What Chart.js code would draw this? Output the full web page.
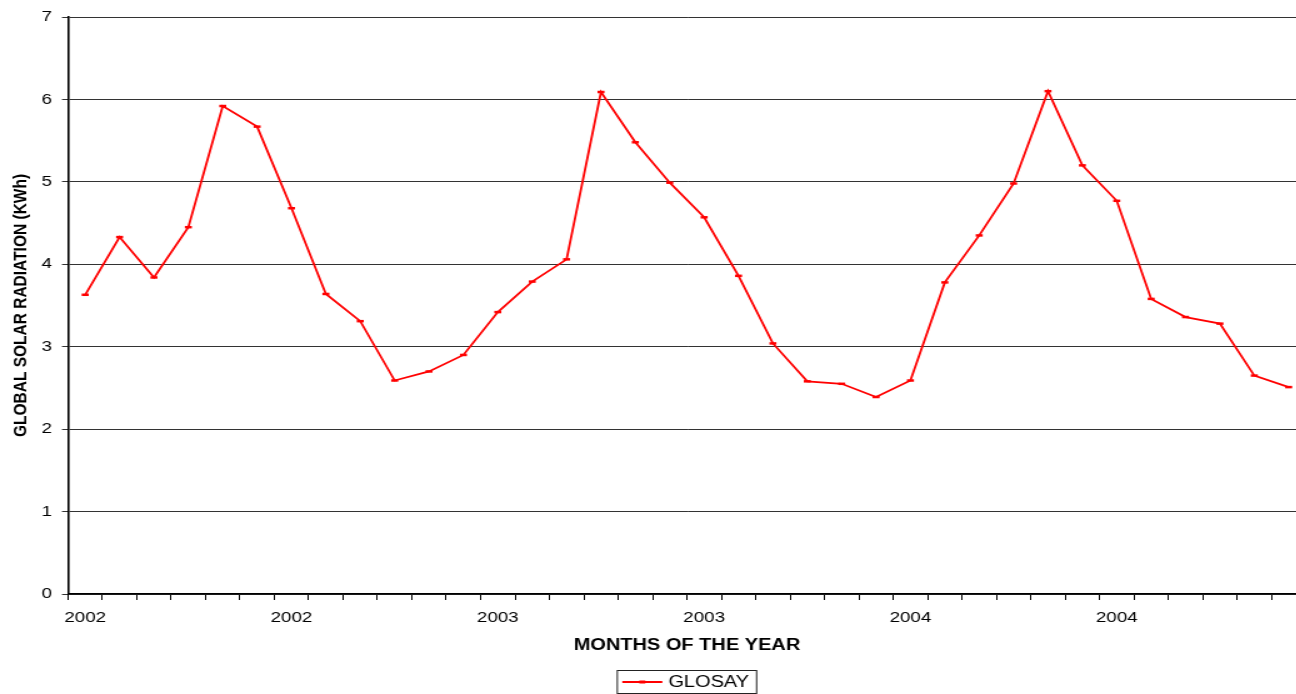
<!DOCTYPE html>
<html>
<head>
<meta charset="utf-8">
<script src="https://cdn.jsdelivr.net/npm/chart.js@4/dist/chart.umd.min.js"></script>
<style>
  html, body { margin: 0; padding: 0; background: #fff; overflow: hidden; width: 1296px; height: 694px; }
  /* the original picture is stretched sideways, so the canvas is too */
  #chart { position: absolute; left: 0; top: 0; transform: scaleX(1.25); transform-origin: 0 0; }
</style>
</head>
<body>
<canvas id="chart" width="1050" height="694"></canvas>
<script>
// monthly global solar radiation, Jan 2002 - Dec 2004
const years = ['2002', '2003', '2004'];
const months = ['Jan', 'Feb', 'Mar', 'Apr', 'May', 'Jun', 'Jul', 'Aug', 'Sep', 'Oct', 'Nov', 'Dec'];
const categories = years.flatMap(y => months.map(m => m + ' ' + y));

// labels shown under every 6th month, as in the original
const tickLabels = ['2002', '2002', '2003', '2003', '2004', '2004'];

const glosay = [
  3.63, 4.33, 3.84, 4.45, 5.92, 5.67, 4.68, 3.64, 3.31, 2.59, 2.70, 2.90,
  3.42, 3.79, 4.06, 6.09, 5.48, 4.99, 4.57, 3.86, 3.04, 2.58, 2.55, 2.39,
  2.59, 3.78, 4.35, 4.98, 6.10, 5.20, 4.77, 3.58, 3.36, 3.28, 2.65, 2.51
];

const FONT = "'Liberation Sans', Arial, Helvetica, sans-serif";
const RED = '#ff0000';

// boxed legend under the x title, centred on the plot area
const boxedLegend = {
  id: 'boxedLegend',
  afterDraw(chart) {
    const ctx = chart.ctx;
    const area = chart.chartArea;
    const label = chart.data.datasets[0].label;
    ctx.save();
    ctx.font = '16px ' + FONT;
    const textW = ctx.measureText(label).width;
    const lineW = 32;
    const boxW = 4 + lineW + 4.8 + textW + 6;
    const cx = (area.left + area.right) / 2;
    const left = cx - boxW / 2;
    const top = 670.5, bottom = 693.5, midY = 682;

    ctx.strokeStyle = '#222';
    ctx.lineWidth = 1;
    ctx.strokeRect(left, top, boxW, bottom - top);

    ctx.strokeStyle = RED;
    ctx.lineWidth = 1.8;
    ctx.beginPath();
    ctx.moveTo(left + 4, midY);
    ctx.lineTo(left + 4 + lineW, midY);
    ctx.stroke();
    ctx.fillStyle = RED;
    ctx.fillRect(left + 4 + lineW / 2 - 2.4, midY - 1.5, 4.8, 3);

    ctx.fillStyle = '#000';
    ctx.textBaseline = 'middle';
    ctx.textAlign = 'left';
    ctx.fillText(label, left + 4 + lineW + 4.8, midY + 0.5);
    ctx.restore();
  }
};

new Chart(document.getElementById('chart'), {
  type: 'line',
  data: {
    labels: categories,
    datasets: [{
      label: 'GLOSAY',
      data: glosay,
      borderColor: RED,
      backgroundColor: RED,
      borderWidth: 1.8,
      tension: 0,
      pointStyle: 'line',
      pointRadius: 2.8,
      pointBorderWidth: 2.5,
      pointBorderColor: RED,
      pointHoverRadius: 2.8
    }]
  },
  options: {
    responsive: false,
    animation: false,
    devicePixelRatio: 1,
    // plot runs a little past the right edge of the picture, as in the original
    layout: { padding: { top: 17, right: 1, bottom: 39, left: 0 } },
    plugins: {
      legend: { display: false },
      tooltip: { enabled: false }
    },
    scales: {
      x: {
        offset: true,
        afterFit: s => { s.height = 61; },
        grid: { display: true, offset: true, drawOnChartArea: false, tickLength: 6, color: '#000', lineWidth: 1 },
        border: { display: true, color: '#000', width: 1.6 },
        ticks: {
          autoSkip: false,
          maxRotation: 0,
          minRotation: 0,
          padding: 9,
          color: '#000',
          font: { family: FONT, size: 15 },
          callback: (v, i) => (i % 6 === 0 ? tickLabels[i / 6] : '')
        },
        title: {
          display: true,
          text: 'MONTHS OF THE YEAR',
          color: '#000',
          padding: { top: 0, bottom: 0 },
          font: { family: FONT, size: 16, weight: 'bold' }
        }
      },
      y: {
        min: 0,
        max: 7,
        afterFit: s => { s.width = 54.4; },
        grid: { color: '#333', lineWidth: 1, tickLength: 4.8 },
        border: { display: true, color: '#000', width: 1.6 },
        ticks: {
          stepSize: 1,
          padding: 8,
          color: '#000',
          font: { family: FONT, size: 15 }
        },
        title: {
          display: true,
          text: 'GLOBAL SOLAR RADIATION (KWh)',
          color: '#000',
          padding: { top: 7, bottom: 0 },
          font: { family: FONT, size: 15.5, weight: 'bold' }
        }
      }
    }
  },
  plugins: [boxedLegend]
});
</script>
</body>
</html>
